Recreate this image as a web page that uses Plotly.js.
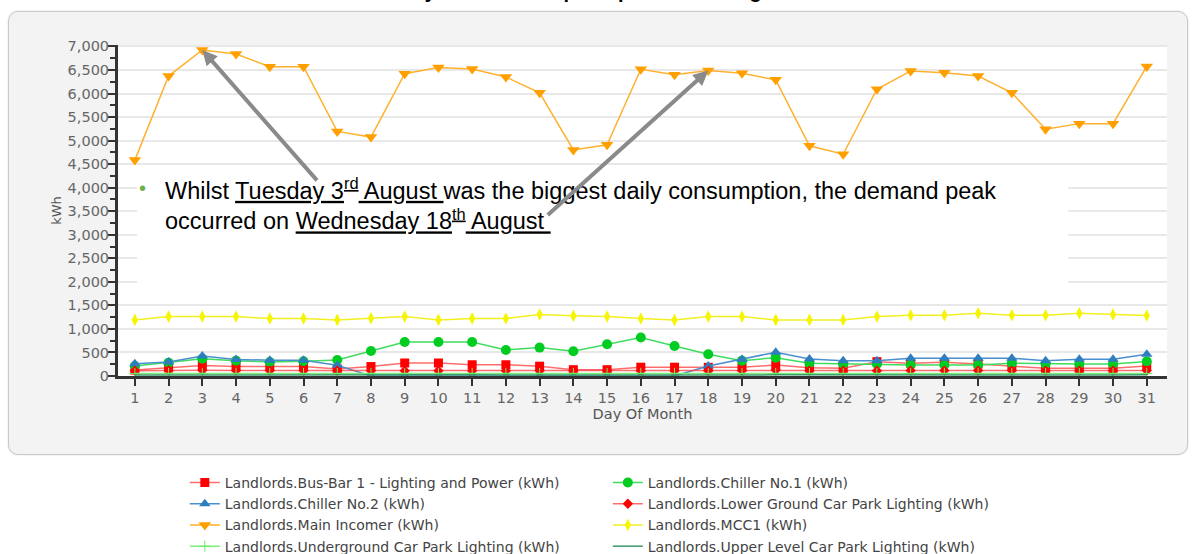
<!DOCTYPE html>
<html><head><meta charset="utf-8">
<script src="https://cdn.plot.ly/plotly-3.0.1.min.js"></script>
<style>
html,body{margin:0;padding:0;background:#fff;}
#wrap{position:relative;width:1192px;height:554px;overflow:hidden;}
#panel{position:absolute;left:8px;top:11px;width:1178px;height:442px;background:#f3f3f3;border:1.5px solid #c9c9c9;border-radius:10px;box-shadow:0 0 2px rgba(0,0,0,0.15);}
#chart{position:absolute;left:0;top:0;width:1192px;height:554px;}
</style></head>
<body><div id="wrap"><div id="panel"></div><div id="chart"></div></div>
<script>
const days = [1,2,3,4,5,6,7,8,9,10,11,12,13,14,15,16,17,18,19,20,21,22,23,24,25,26,27,28,29,30,31];
const busBar = [127,172,224,201,201,201,150,201,276,276,239,239,209,134,134,187,187,184,184,234,177,163,305,270,290,255,213,163,163,163,213];
const chiller1 = [213,284,369,326,298,312,340,532,723,723,723,553,603,525,674,816,638,461,326,390,270,255,255,234,234,234,270,255,255,255,310];
const chiller2 = [261,298,425,351,336,336,230,0,0,0,0,0,0,0,0,0,0,213,355,505,362,326,326,376,376,376,376,326,355,355,460];
const lowerGround = [112,120,120,115,115,115,112,110,110,110,110,110,110,110,110,110,110,110,115,125,110,110,110,115,115,115,115,110,110,110,115];
const mainIncomer = [4585,6370,6925,6840,6570,6570,5195,5075,6420,6550,6520,6350,6015,4800,4910,6515,6400,6490,6430,6290,4890,4710,6090,6480,6440,6370,6015,5240,5360,5360,6575];
const mcc1 = [1191,1262,1262,1262,1220,1220,1191,1227,1262,1191,1220,1220,1305,1277,1262,1220,1191,1262,1262,1191,1191,1191,1262,1290,1290,1333,1290,1290,1333,1305,1284];
const underground = [52,54,54,54,52,52,52,52,54,54,54,52,52,52,52,54,54,52,52,54,52,52,52,54,54,54,52,52,52,52,54];
const upperLevel = [22,24,24,24,22,22,22,22,24,24,24,22,22,22,22,24,24,22,22,24,22,22,22,24,24,24,22,22,22,22,24];

const names = [
 'Landlords.Bus-Bar 1 - Lighting and Power (kWh)',
 'Landlords.Chiller No.1 (kWh)',
 'Landlords.Chiller No.2 (kWh)',
 'Landlords.Lower Ground Car Park Lighting (kWh)',
 'Landlords.Main Incomer (kWh)',
 'Landlords.MCC1 (kWh)',
 'Landlords.Underground Car Park Lighting (kWh)',
 'Landlords.Upper Level Car Park Lighting (kWh)'
];

function tr(name, y, lineColor, mColor, symbol, size, extra) {
  const t = {type:'scatter', mode:'lines+markers', x: days, y: y, name: name,
    line:{color: lineColor, width:1.5},
    marker:{symbol: symbol, size: size, color: mColor}};
  return Object.assign(t, extra || {});
}

const data = [
  tr(names[0], busBar, 'rgba(255,60,60,0.75)', '#ff0000', 'square', 9),
  tr(names[1], chiller1, '#3fdc5f', '#00cc22', 'circle', 10),
  tr(names[2], chiller2, '#4a8fcf', '#2e7dbf', 'triangle-up', 10),
  tr(names[3], lowerGround, 'rgba(255,60,60,0.75)', '#ff0000', 'diamond', 8),
  tr(names[4], mainIncomer, '#ffb12e', '#ffa000', 'triangle-down', 11),
  tr(names[5], mcc1, '#f2f020', '#f5f500', 'diamond-tall', 9),
  tr(names[6], underground, '#7cef7c', '#66ee66', 'cross-thin-open', 8, {marker:{symbol:'cross-thin-open', size:8, color:'#66ee66', line:{color:'#66ee66', width:1}}}),
  {type:'scatter', mode:'lines', x: days, y: upperLevel, name: names[7], line:{color:'#3a9a6a', width:1.5}}
];

const tickFont = {family:'DejaVu Sans, Verdana, sans-serif', size:14.5, color:'#666'};
const peakDay = 3, demandDay = 18;

const layout = {
  width:1192, height:554,
  margin:{l:118, r:25, t:45, b:178, autoexpand:false},
  paper_bgcolor:'rgba(0,0,0,0)',
  plot_bgcolor:'#ffffff',
  showlegend:true,
  xaxis:{range:[0.5,31.6], tickmode:'array', tickvals: days, ticktext: days.map(String),
    showgrid:false, zeroline:false, showline:true, linecolor:'#333', linewidth:3,
    ticks:'outside', ticklen:7, tickwidth:2, tickcolor:'#333', tickfont:tickFont,
    title:{text:'Day Of Month', font:{family:'DejaVu Sans, Verdana, sans-serif', size:14.5, color:'#555'}, standoff:2}},
  yaxis:{range:[0,7030], dtick:500, tick0:0, tickformat:',d', showgrid:true, gridcolor:'#e8e8e8', gridwidth:2,
    zeroline:false, showline:true, linecolor:'#333', linewidth:3,
    ticks:'outside', ticklen:7, tickwidth:2, tickcolor:'#333', tickfont:tickFont, ticklabelstandoff:-4,
    minor:{dtick:250, ticks:'outside', ticklen:5, tickwidth:2, tickcolor:'#333', showgrid:false},
    title:{text:'kWh', font:{family:'DejaVu Sans, Verdana, sans-serif', size:13, color:'#555'}, standoff:4}},
  legend:{orientation:'h', x:0.0637, xanchor:'left', y:-0.2748, yanchor:'top',
    font:{family:'DejaVu Sans, Verdana, sans-serif', size:14, color:'#444'},
    entrywidth:378, bgcolor:'rgba(0,0,0,0)', traceorder:'normal'},
  shapes:[
    {type:'rect', xref:'paper', yref:'paper', x0:0.018, x1:0.906, y0:0.222, y1:0.62,
     fillcolor:'#ffffff', line:{width:0}, layer:'above'}
  ],
  annotations:[
    {xref:'paper', yref:'paper', x:0.45, y:1.1239, xanchor:'center', yanchor:'bottom', showarrow:false,
     text:'Daily Site Consumption pattern for August',
     font:{family:'Liberation Sans, Arial, sans-serif', size:20, color:'#000', weight:'bold'}},
    {xref:'paper', yref:'paper', x:0.0238, y:0.568, xanchor:'center', yanchor:'middle', showarrow:false,
     text:'•', font:{family:'Liberation Sans, Arial, sans-serif', size:20, color:'#6ab04c'}},
    {xref:'paper', yref:'paper', x:0.0429, y:0.5196, xanchor:'left', yanchor:'middle', align:'left', showarrow:false,
     text:'Whilst <span style="text-decoration:underline">Tuesday 3<sup>rd</sup> August </span>was the biggest daily consumption, the demand peak<br>occurred on <span style="text-decoration:underline">Wednesday 18<sup>th</sup> August </span>',
     font:{family:'Liberation Sans, Arial, Helvetica, sans-serif', size:23.5, color:'#000'}},
    {xref:'x', yref:'y', x:peakDay, y:mainIncomer[peakDay-1], ax:116, ay:132, text:'', showarrow:true,
     arrowhead:2, arrowsize:0.75, arrowwidth:4, arrowcolor:'#8a8a8a', standoff:0},
    {xref:'x', yref:'y', x:demandDay, y:mainIncomer[demandDay-1], ax:-162, ay:146, text:'', showarrow:true,
     arrowhead:2, arrowsize:0.75, arrowwidth:4, arrowcolor:'#8a8a8a', standoff:0}
  ]
};

Plotly.newPlot('chart', data, layout, {displayModeBar:false, staticPlot:true});
</script>
</body></html>
